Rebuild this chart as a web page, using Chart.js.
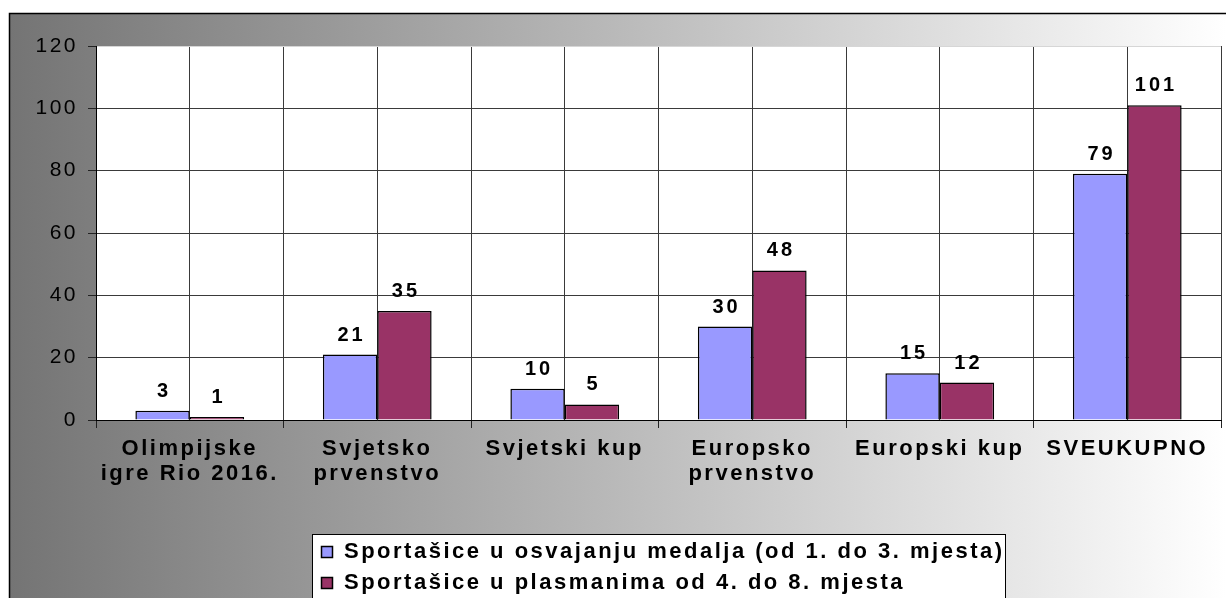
<!DOCTYPE html>
<html>
<head>
<meta charset="utf-8">
<script src="https://cdn.jsdelivr.net/npm/chart.js"></script>
<style>
  html, body { margin: 0; padding: 0; background: #fff; }
  canvas { display: block; }
</style>
</head>
<body>
<canvas id="chart" width="1226" height="598"></canvas>
<script>
const categories = [
  ['Olimpijske', 'igre Rio 2016.'],
  ['Svjetsko', 'prvenstvo'],
  'Svjetski kup',
  ['Europsko', 'prvenstvo'],
  'Europski kup',
  'SVEUKUPNO',
];
const medalLabel = 'Sportašice u osvajanju medalja (od 1. do 3. mjesta)';
const placementLabel = 'Sportašice u plasmanima od 4. do 8. mjesta';
const medalValues = [3, 21, 10, 30, 15, 79];
const placementValues = [1, 35, 5, 48, 12, 101];
const yMin = 0;
const yMax = 120;
const yStep = 20;

const FONT = "'Liberation Sans', Arial, sans-serif";
const SPACING = '2.5px';
const gridDark = '#3a3a3a';
const gridLight = '#d6d6d6';

// background gradient, outer frame and white plot area
const backdrop = {
  id: 'backdrop',
  beforeLayout(chart) {
    chart.ctx.letterSpacing = SPACING;
  },
  beforeDraw(chart) {
    const { ctx, width, height, chartArea: a } = chart;
    ctx.save();
    ctx.fillStyle = '#fff';
    ctx.fillRect(0, 0, width, height);
    const g = ctx.createLinearGradient(9, 0, width, 0);
    g.addColorStop(0, '#747474');
    g.addColorStop(1, '#ffffff');
    ctx.fillStyle = g;
    ctx.fillRect(9, 13, width - 9, height - 13);
    ctx.strokeStyle = '#000';
    ctx.lineWidth = 1.5;
    ctx.beginPath();
    ctx.moveTo(9.5, height);
    ctx.lineTo(9.5, 13.5);
    ctx.lineTo(width, 13.5);
    ctx.stroke();
    ctx.fillStyle = '#fff';
    ctx.fillRect(a.left, a.top, a.right - a.left, a.bottom - a.top);
    ctx.restore();
    ctx.letterSpacing = SPACING;
  },
};

// value labels above each bar
const valueLabels = {
  id: 'valueLabels',
  afterDatasetsDraw(chart) {
    const { ctx } = chart;
    ctx.save();
    ctx.letterSpacing = '3px';
    ctx.font = `bold 20px ${FONT}`;
    ctx.fillStyle = '#000';
    ctx.textAlign = 'center';
    ctx.textBaseline = 'alphabetic';
    chart.data.datasets.forEach((ds, i) => {
      chart.getDatasetMeta(i).data.forEach((bar, j) => {
        ctx.fillText(String(ds.data[j]), bar.x + 1.5, bar.y - 14);
      });
    });
    ctx.restore();
  },
};

// vertical legend box at the bottom
const legendBox = {
  id: 'legendBox',
  afterDraw(chart) {
    const { ctx } = chart;
    const left = 312.5, top = 534.5, right = 1005.5;
    ctx.save();
    ctx.letterSpacing = SPACING;
    ctx.fillStyle = '#fff';
    ctx.fillRect(left, top, right - left, 80);
    ctx.strokeStyle = '#000';
    ctx.lineWidth = 1;
    ctx.strokeRect(left, top, right - left, 80);
    ctx.font = `bold 22px ${FONT}`;
    ctx.textAlign = 'left';
    ctx.textBaseline = 'alphabetic';
    chart.data.datasets.forEach((ds, i) => {
      const base = 558 + i * 31;
      ctx.fillStyle = ds.backgroundColor;
      ctx.fillRect(321, base - 12, 12, 12);
      ctx.strokeStyle = '#000';
      ctx.lineWidth = 1.5;
      ctx.strokeRect(321.5, base - 11.5, 11, 11);
      ctx.fillStyle = '#000';
      ctx.fillText(ds.label, 344, base);
    });
    ctx.restore();
  },
};

new Chart(document.getElementById('chart'), {
  type: 'bar',
  data: {
    labels: categories,
    datasets: [
      {
        label: medalLabel,
        data: medalValues,
        backgroundColor: '#9999ff',
        borderColor: '#000',
        borderWidth: 1.5,
        categoryPercentage: 0.58,
        barPercentage: 1,
      },
      {
        label: placementLabel,
        data: placementValues,
        backgroundColor: '#993366',
        borderColor: '#000',
        borderWidth: 1.5,
        categoryPercentage: 0.58,
        barPercentage: 1,
      },
    ],
  },
  options: {
    responsive: false,
    animation: false,
    devicePixelRatio: 1,
    layout: { padding: { left: 9, top: 46, right: 5, bottom: 8 } },
    plugins: {
      legend: { display: false },
      tooltip: { enabled: false },
    },
    scales: {
      x: {
        offset: true,
        grid: {
          offset: true,
          color: (c) => (c.index === categories.length ? gridLight : gridDark),
          tickLength: 8,
          tickColor: '#222',
        },
        border: { color: '#000', width: 1 },
        ticks: {
          color: '#000',
          font: { family: FONT, size: 22, weight: 'bold', lineHeight: 1.15 },
          maxRotation: 0,
          autoSkip: false,
          padding: 8,
        },
        afterFit: (s) => { s.height = 170; },
      },
      xc: {
        type: 'category',
        labels: categories,
        position: 'bottom',
        offset: true,
        grid: { offset: false, drawTicks: false, color: gridDark },
        border: { display: false },
        ticks: { display: false },
        afterFit: (s) => { s.height = 0; },
      },
      y: {
        min: yMin,
        max: yMax,
        grid: {
          color: (c) => (c.tick && c.tick.value === yMax ? gridLight : gridDark),
          tickLength: 8,
          tickColor: '#222',
        },
        border: { color: '#000', width: 1 },
        ticks: {
          stepSize: yStep,
          color: '#000',
          font: { family: FONT, size: 21 },
          padding: 10,
        },
        afterFit: (s) => { s.width = 87; },
      },
    },
  },
  plugins: [backdrop, valueLabels, legendBox],
});
</script>
</body>
</html>
